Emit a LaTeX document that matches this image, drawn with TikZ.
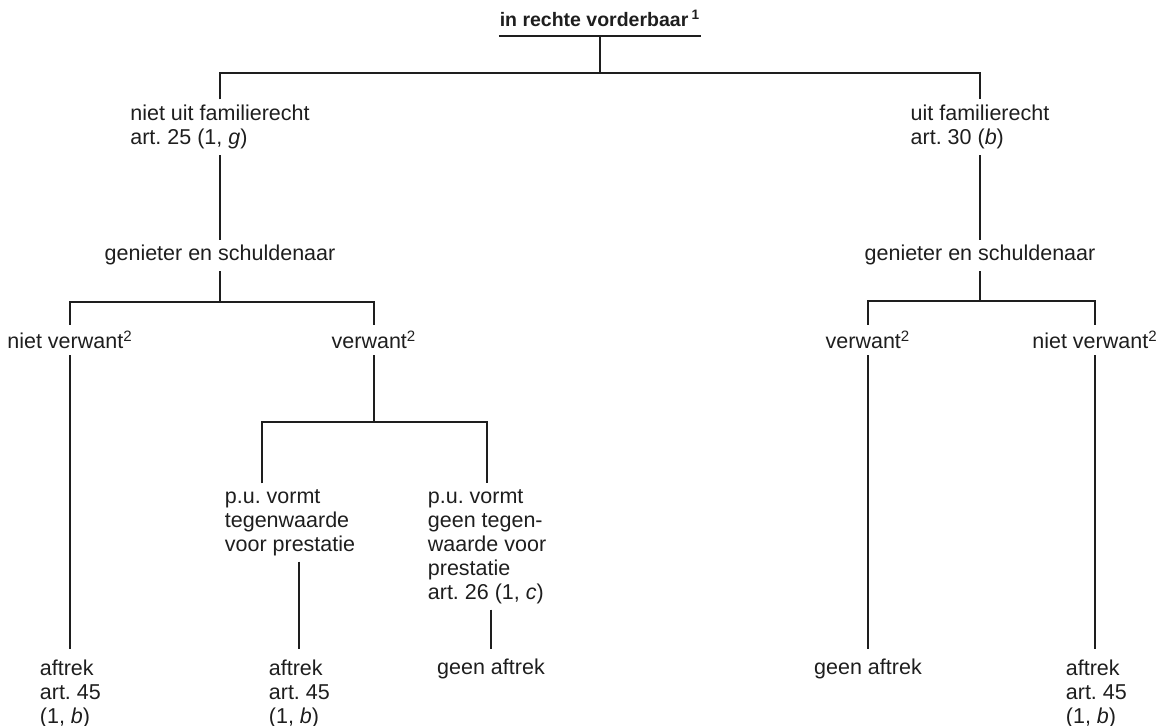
\documentclass[tikz,border=0pt]{standalone}
\usepackage{fontspec}
\setmainfont{Liberation Sans}
\usepackage{tikz}
\frenchspacing
\definecolor{ink}{HTML}{1E1E1E}
\newcommand\trfont{\fontsize{10.75pt}{12pt}\selectfont}
\newcommand\ttlfont{\fontsize{9.75pt}{12pt}\selectfont\bfseries}
\tikzset{tr/.style={x=.5pt,y=-.5pt,line width=.9pt,draw=ink,text=ink,font=\trfont},
  lbl/.style={inner sep=2.5pt,align=left},
  leaf/.style={lbl,inner ysep=5pt}}

\begin{document}
\begin{tikzpicture}[tr]
  \useasboundingbox (0,0) rectangle (1169,726);
  % top
  \node[font=\ttlfont,anchor=base,inner xsep=0pt,inner ysep=4pt,text depth=0pt] (ttl) at (600,27) {in rechte vorderbaar\,\textsuperscript{1}};
  \draw (ttl.south west) -- (ttl.south east);
  \coordinate (j0) at (600,73);
  \node[lbl,anchor=north] (n1) at (220,99.5) {niet uit familierecht\\art. 25 (1, \textit{g})};
  \node[lbl,anchor=north] (n2) at (980,99.5) {uit familierecht\\art. 30 (\textit{b})};
  \draw (ttl.south) -- (j0);
  \draw (n1.north) |- (j0) -| (n2.north);
  % genieter en schuldenaar
  \node[lbl,anchor=base] (g1) at (220,261) {genieter en schuldenaar};
  \node[lbl,anchor=base] (g2) at (980,261) {genieter en schuldenaar};
  \draw (n1.south) -- (g1.north);\draw (n2.south) -- (g2.north);
  \coordinate (j1) at (220,302);\coordinate (j2) at (980,301);
  \node[lbl,anchor=base] (v1) at (70,349) {niet verwant\textsuperscript{2}};
  \node[lbl,anchor=base] (v2) at (374,349) {verwant\textsuperscript{2}};
  \node[lbl,anchor=base] (v3) at (868,349) {verwant\textsuperscript{2}};
  \node[lbl,anchor=base] (v4) at (1095,349) {niet verwant\textsuperscript{2}};
  \draw (g1.south) -- (j1);\draw (v1.north) |- (j1) -| (v2.north);
  \draw (g2.south) -- (j2);\draw (v3.north) |- (j2) -| (v4.north);
  % prestatie
  \coordinate (j3) at (374,422);\coordinate (d1) at (262,422);
  \node[lbl,anchor=north west] (pu1) at (219,483.5) {p.u. vormt\\tegenwaarde\\voor prestatie};
  \node[lbl,anchor=north west] (pu2) at (422,483.5) {p.u. vormt\\geen tegen-\\waarde voor\\prestatie\\art. 26 (1, \textit{c})};
  \draw (v2.south) -- (j3);
  \draw (pu1.north -| d1) |- (j3) -| (pu2.north);
  % leaves
  \node[leaf,anchor=north west] (lf1) at (34,649.5) {aftrek\\art. 45\\(1, \textit{b})};
  \node[leaf,anchor=north west] (lf2) at (263,649.5) {aftrek\\art. 45\\(1, \textit{b})};
  \node[leaf,anchor=base] (lf3) at (491,675) {geen aftrek};
  \node[leaf,anchor=base] (lf4) at (868,675) {geen aftrek};
  \node[leaf,anchor=north west] (lf5) at (1060,649.5) {aftrek\\art. 45\\(1, \textit{b})};
  \draw (v1.south) -- (v1.south |- lf1.north);
  \draw (pu1.south -| lf2.north) -- (lf2.north);
  \draw (pu2.south -| lf3.north) -- (lf3.north);
  \draw (v3.south) -- (lf4.north);
  \draw (v4.south) -- (v4.south |- lf5.north);
\end{tikzpicture}
\end{document}
